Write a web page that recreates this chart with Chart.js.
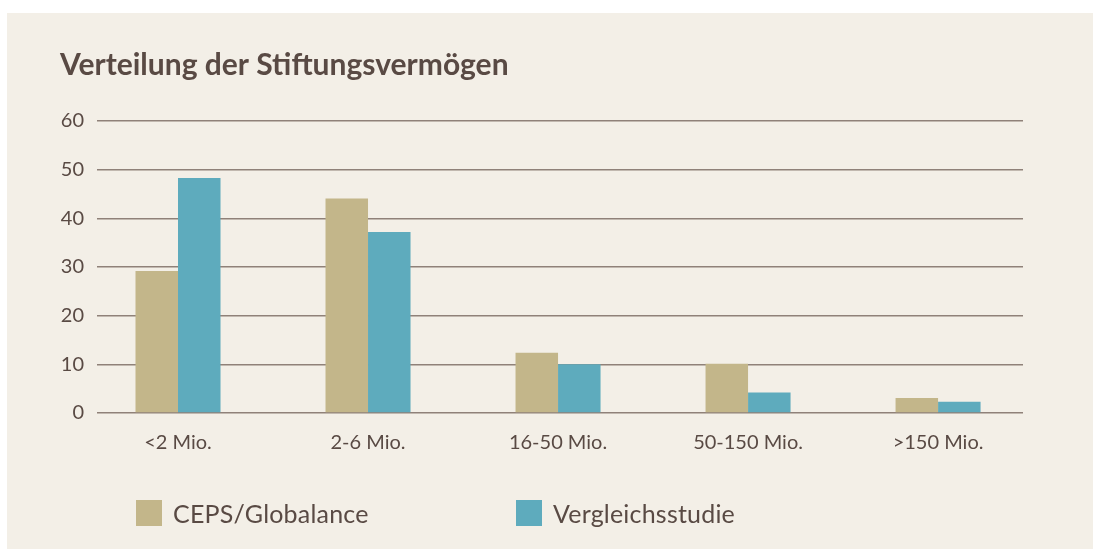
<!DOCTYPE html>
<html>
<head>
<meta charset="utf-8">
<script src="https://cdn.jsdelivr.net/npm/chart.js@4.4.1/dist/chart.umd.min.js"></script>
<style>
  html, body { margin: 0; padding: 0; background: #ffffff; width: 1093px; height: 549px; overflow: hidden; }
  #panel { position: absolute; left: 7px; top: 13px; width: 1086px; height: 536px; background: #f3efe7; }
  #wrap { position: absolute; left: 0; top: 0; width: 1086px; height: 536px; }
  .leg { position: absolute; top: 487px; height: 26px; display: flex; align-items: center; font-family: Lato, sans-serif; font-size: 25px; color: #594a44; white-space: nowrap; letter-spacing: 0.2px; }
  .leg .sw { width: 26px; height: 26px; margin-right: 11px; }
</style>
</head>
<body>
<div id="panel">
  <div id="wrap"><canvas id="c"></canvas></div>
  <div class="leg" style="left:129px"><span class="sw" style="background:#c3b68a"></span><span>CEPS/Globalance</span></div>
  <div class="leg" style="left:509px"><span class="sw" style="background:#5eabbd"></span><span>Vergleichsstudie</span></div>
</div>
<script>
const categories = ["<2 Mio.", "2-6 Mio.", "16-50 Mio.", "50-150 Mio.", ">150 Mio."];
const cepsValues = [29.2, 44.1, 12.4, 10.1, 3.1];
const vergleichValues = [48.3, 37.2, 10.0, 4.2, 2.3];
const yTicks = [0, 10, 20, 30, 40, 50, 60];
const seriesNames = ["CEPS/Globalance", "Vergleichsstudie"];

const textColor = '#594a44';
const gridColor = '#8f8179';

new Chart(document.getElementById('c'), {
  type: 'bar',
  data: {
    datasets: [
      { label: seriesNames[0], data: cepsValues.map((v, i) => ({ x: i, y: v })), backgroundColor: '#c3b68a', borderWidth: 0, categoryPercentage: 0.4474, barPercentage: 1 },
      { label: seriesNames[1], data: vergleichValues.map((v, i) => ({ x: i, y: v })), backgroundColor: '#5eabbd', borderWidth: 0, categoryPercentage: 0.4474, barPercentage: 1 }
    ]
  },
  options: {
    responsive: true,
    maintainAspectRatio: false,
    animation: false,
    layout: { padding: { left: 53, right: 70, top: 0, bottom: 76 } },
    plugins: {
      legend: { display: false },
      tooltip: { enabled: false },
      title: {
        display: true,
        text: 'Verteilung der Stiftungsvermögen',
        align: 'start',
        color: textColor,
        font: { family: 'Lato', size: 30, weight: 'bold', lineHeight: 1.2 },
        padding: { top: 34.5, bottom: 37.5 }
      }
    },
    scales: {
      x: {
        type: 'linear',
        offset: false,
        min: -0.4263,
        max: 4.447,
        grid: { display: false, drawTicks: false },
        border: { display: false },
        afterBuildTicks: (axis) => { axis.ticks = categories.map((_, i) => ({ value: i })); },
        ticks: {
          autoSkip: false,
          maxRotation: 0,
          padding: 18,
          color: textColor,
          font: { family: 'Lato', size: 20 },
          callback: (v) => categories[v] !== undefined ? categories[v] : ''
        }
      },
      y: {
        min: 0,
        max: 60,
        afterFit: (scale) => { scale.width = 37; },
        afterBuildTicks: (axis) => { axis.ticks = yTicks.map(v => ({ value: v })); },
        grid: { color: gridColor, lineWidth: 1.5, drawTicks: false },
        border: { display: false },
        ticks: {
          padding: 13,
          color: textColor,
          font: { family: 'Lato', size: 20 }
        }
      }
    }
  }
});
</script>
</body>
</html>
